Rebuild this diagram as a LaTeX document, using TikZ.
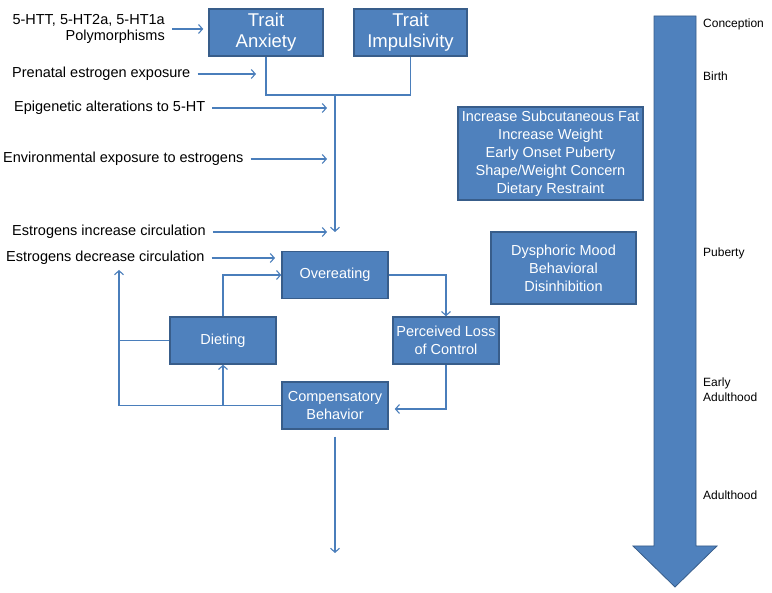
\documentclass[tikz,border=0pt]{standalone}
\usepackage{fontspec}
\setmainfont{Liberation Sans}
\usetikzlibrary{arrows.meta}

\definecolor{boxblue}{RGB}{79,129,189}
\definecolor{boxedge}{RGB}{56,93,138}
\definecolor{lineblue}{RGB}{74,126,187}

\tikzset{
    box/.style={draw=boxedge, line width=1.5pt, fill=boxblue, text=white, align=center,
        inner sep=1pt, minimum width=106pt, minimum height=47pt,
        font=\fontsize{14.5}{18}\selectfont},
    lbl/.style={inner sep=0pt, font=\fontsize{14.5}{15.5}\selectfont},
    agelbl/.style={inner sep=0pt, anchor=west, align=left, font=\fontsize{12}{15}\selectfont},
    conn/.style={draw=lineblue, line width=1.1pt},
    arr/.style={conn, -{Straight Barb[length=4pt,width=9pt]}},
}

\begin{document}
\begin{tikzpicture}[x=1pt,y=-1pt]
    \useasboundingbox (0,0) rectangle (772,593);
    \def\trunkx{335}

    % Trait boxes
    \node[box, minimum width=114pt, font=\fontsize{18.5}{21}\selectfont] (anxiety) at (266,32.5) {Trait\\Anxiety};
    \node[box, minimum width=113pt, font=\fontsize{18.5}{21}\selectfont] (impulsivity) at (410.5,32.5) {Trait\\Impulsivity};

    % Left labels
    \node[lbl, anchor=east, align=right] (poly) at (165,29) {5-HTT, 5-HT2a, 5-HT1a\\Polymorphisms};
    \node[lbl, anchor=west] (prenatal) at (12,74) {Prenatal estrogen exposure};
    \node[lbl, anchor=west] (epi) at (14,108) {Epigenetic alterations to 5-HT};
    \node[lbl, anchor=west] (env) at (3,159) {Environmental exposure to estrogens};
    \node[lbl, anchor=west] (inc) at (12,232) {Estrogens increase circulation};
    \node[lbl, anchor=west] (dec) at (6,258) {Estrogens decrease circulation};

    % Arrow ends
    \coordinate (prenatal-end) at (256,0);
    \coordinate (epi-end) at (327,0);
    \coordinate (env-end) at (327,0);
    \coordinate (inc-end) at (327,0);
    \coordinate (dec-end) at (275,0);
    \coordinate (join) at (\trunkx,95);
    \coordinate (trunk-end) at (\trunkx,232);
    \coordinate (loop-up) at (119,270);
    \coordinate (out-end) at (\trunkx,553);

    \draw[arr] ([xshift=7pt]poly.east) -- ([xshift=-5pt]poly.east -| anxiety.west);
    \foreach \name in {prenatal,epi,env,inc,dec} {
        \draw[arr] ([xshift=7pt]\name.east) -- (\name.east -| \name-end);
    }

    % Trunk
    \draw[conn] (anxiety.south) |- (join) -| (impulsivity.south);
    \draw[arr] (join) -- (trunk-end);

    % Binge cycle
    \node[box] (overeat) at (\trunkx,275) {Overeating};
    \node[box] (dieting) at (223,340.5) {Dieting};
    \node[box] (loss) at (446,340.5) {Perceived Loss\\of Control};
    \node[box] (comp) at (\trunkx,405.5) {Compensatory\\Behavior};

    \draw[arr] (dieting.north) |- (overeat.west);
    \draw[arr] (overeat.east) -| (loss.north);
    \draw[arr, shorten >=6pt] (loss.south) |- ([yshift=-3.5pt]comp.east);
    \draw[arr] (comp.west) -| (loop-up);
    \draw[conn] (dieting.west) -- (dieting.west -| loop-up);
    \draw[arr] (comp.west -| dieting.south) -- (dieting.south);
    \draw[arr] ([yshift=-7pt]comp.south) -- (out-end);

    % Side boxes
    \node[box, minimum width=185pt, minimum height=93pt] (risk) at (550.5,153.5)
        {Increase Subcutaneous Fat\\Increase Weight\\Early Onset Puberty\\Shape/Weight Concern\\Dietary Restraint};
    \node[box, minimum width=145pt, minimum height=72pt] (mood) at (563.5,268)
        {Dysphoric Mood\\Behavioral\\Disinhibition};

    % Timeline
    \filldraw[fill=boxblue, draw=boxedge, line width=0.8pt]
        (654,16) -- (696,16) -- (696,546) -- (717,546) -- (675,587) -- (633,546) -- (654,546) -- cycle;
    \foreach \y/\name/\txt in {24/conception/Conception, 76/birth/Birth, 253/puberty/Puberty,
                               389.5/early/{Early\\Adulthood}, 495/adult/Adulthood} {
        \node[agelbl] (\name) at (703,\y) {\txt};
    }

\end{tikzpicture}
\end{document}
